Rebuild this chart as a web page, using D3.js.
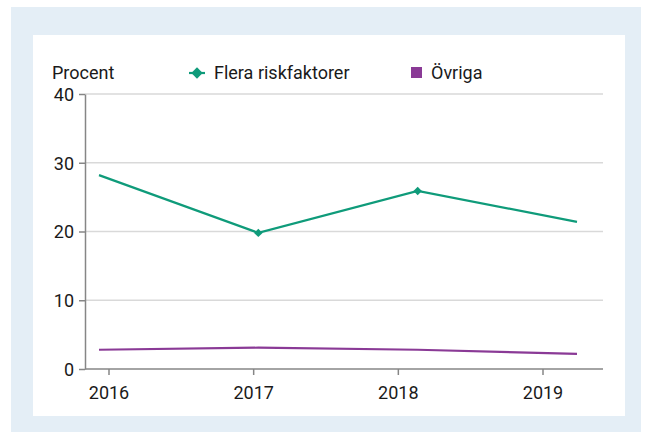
<!DOCTYPE html>
<html>
<head>
<meta charset="utf-8">
<script src="https://cdn.jsdelivr.net/npm/d3@7"></script>
<style>
  body { margin: 0; background: #fff; }
  text { font-family: Roboto, "Noto Sans", sans-serif; fill: #1a1a1a; }
</style>
</head>
<body>
<main></main>
<script>
// data
const years = ["2016", "2017", "2018", "2019"];
const flera = [28.2, 19.8, 25.9, 21.4];
const ovriga = [2.8, 3.1, 2.8, 2.2];
const yTicks = [0, 10, 20, 30, 40];

const W = 645, H = 438;
const green = "#0f9b7a";
const purple = "#8a3a96";
const fs = "18px";

const svg = d3.select("main")
  .append("svg")
  .attr("width", W)
  .attr("height", H);

svg.append("rect")
  .attr("x", 11).attr("y", 7)
  .attr("width", 630).attr("height", 425)
  .attr("fill", "#e4eef6");

svg.append("rect")
  .attr("x", 33).attr("y", 35)
  .attr("width", 592).attr("height", 381)
  .attr("fill", "#fff");

const yScale = d3.scaleLinear()
  .domain([0, 40])
  .range([369, 94]);

// tick labels and data points sit on slightly different spacings in the original
const xTick = d3.scalePoint()
  .domain(years)
  .range([109, 543]);

const xData = d3.scalePoint()
  .domain(years)
  .range([99, 577]);

// grid
svg.append("g")
  .selectAll("line")
  .data(yTicks.filter(d => d > 0))
  .enter()
  .append("line")
  .attr("x1", 85).attr("x2", 603)
  .attr("y1", d => yScale(d)).attr("y2", d => yScale(d))
  .attr("stroke", "#d9d9d9")
  .attr("stroke-width", 1.5);

// y axis
const yAxis = svg.append("g")
  .attr("transform", "translate(85,0)")
  .call(d3.axisLeft(yScale).tickValues(yTicks).tickSize(6).tickPadding(6).tickSizeOuter(0));
yAxis.select(".domain").attr("stroke", "#868686").attr("stroke-width", 1.5);
yAxis.selectAll(".tick line").attr("stroke", "#868686").attr("stroke-width", 1.5);
yAxis.selectAll(".tick text")
  .style("font-size", fs)
  .attr("dy", "0.36em")
  .attr("x", -11);

// x axis
const xAxis = svg.append("g")
  .attr("transform", "translate(0,369)");
xAxis.append("line")
  .attr("x1", 85).attr("x2", 603)
  .attr("stroke", "#868686").attr("stroke-width", 1.5);
xAxis.selectAll(".xt")
  .data(years)
  .enter()
  .append("line")
  .attr("x1", d => xTick(d)).attr("x2", d => xTick(d))
  .attr("y1", 0).attr("y2", 6)
  .attr("stroke", "#868686").attr("stroke-width", 1.5);
xAxis.selectAll(".xl")
  .data(years)
  .enter()
  .append("text")
  .attr("x", d => xTick(d))
  .attr("y", 30)
  .attr("text-anchor", "middle")
  .style("font-size", fs)
  .text(d => d);

// lines
const line = d3.line()
  .x((d, i) => xData(years[i]))
  .y(d => yScale(d));

svg.append("path")
  .datum(ovriga)
  .attr("d", line)
  .attr("fill", "none")
  .attr("stroke", purple)
  .attr("stroke-width", 2.2);

svg.append("path")
  .datum(flera)
  .attr("d", line)
  .attr("fill", "none")
  .attr("stroke", green)
  .attr("stroke-width", 2.2);

// square markers turned 45 degrees
const marker = d3.symbol().type(d3.symbolSquare).size(36);
svg.selectAll(".pt")
  .data(flera.slice(1, 3))
  .enter()
  .append("path")
  .attr("d", marker)
  .attr("transform", (d, i) => `translate(${xData(years[i + 1])},${yScale(d)}) rotate(45)`)
  .attr("fill", green);

// legend
svg.append("text")
  .attr("x", 52).attr("y", 79)
  .style("font-size", fs)
  .text("Procent");

svg.append("line")
  .attr("x1", 189).attr("x2", 205)
  .attr("y1", 73).attr("y2", 73)
  .attr("stroke", green).attr("stroke-width", 2.2);
svg.append("path")
  .attr("d", d3.symbol().type(d3.symbolSquare).size(64))
  .attr("transform", "translate(197,73) rotate(45)")
  .attr("fill", green);
svg.append("text")
  .attr("x", 214).attr("y", 79)
  .style("font-size", fs)
  .text("Flera riskfaktorer");

svg.append("rect")
  .attr("x", 411).attr("y", 67)
  .attr("width", 11).attr("height", 11)
  .attr("fill", purple);
svg.append("text")
  .attr("x", 431).attr("y", 79)
  .style("font-size", fs)
  .text("Övriga");
</script>
</body>
</html>
